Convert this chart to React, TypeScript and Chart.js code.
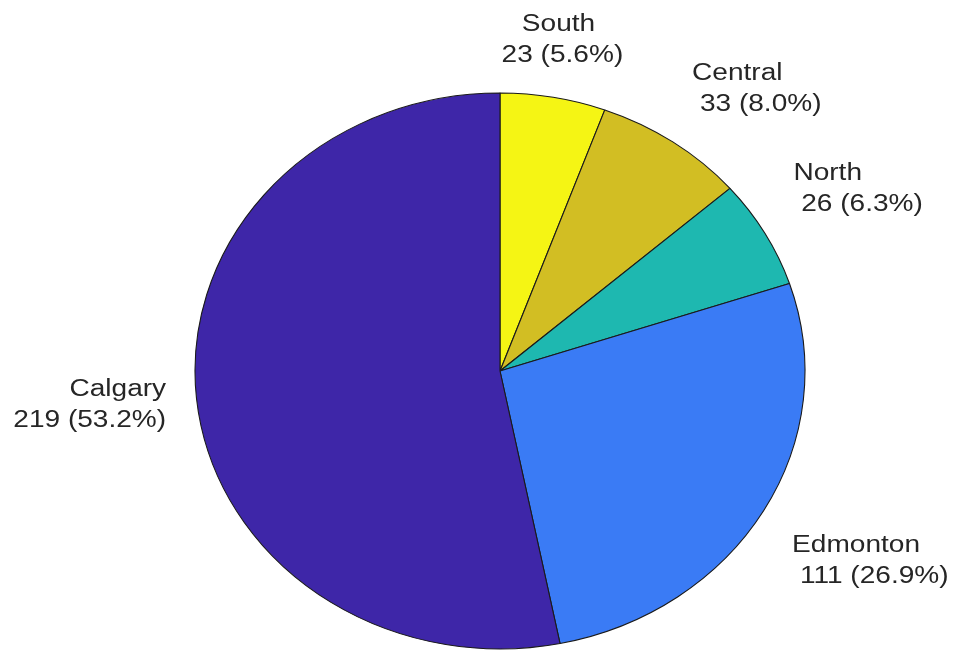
import React, { useEffect, useRef } from "react";
import { Chart, registerables } from "chart.js";

Chart.register(...registerables);

const categories = ["South", "Central", "North", "Edmonton", "Calgary"];
const counts = [23, 33, 26, 111, 219];
const sliceColors = ["#f5f514", "#d2be23", "#1eb8b0", "#3a7bf5", "#3e26a8"];

const W = 956;
const H = 651;
const RADIUS = 278;
const STRETCH_X = 305 / 278; // pie is an ellipse in the reference
const TEXT_STRETCH_X = 1.22;
const FONT = "23px 'Liberation Sans', Arial, sans-serif";
const TEXT_COLOR = "#262626";
const LINE_GAP = 31;

const ellipsePlugin = {
  id: "ellipse",
  beforeDatasetsDraw(chart: any) {
    const meta = chart.getDatasetMeta(0);
    const arc = meta.data[0];
    if (!arc) return;
    const { x, y } = arc;
    const ctx = chart.ctx;
    ctx.save();
    ctx.translate(x, y);
    ctx.scale(STRETCH_X, 1);
    ctx.translate(-x, -y);
  },
  afterDatasetsDraw(chart: any) {
    const ctx = chart.ctx;
    ctx.restore();
    const meta = chart.getDatasetMeta(0);
    const data = chart.data.datasets[0].data as number[];
    const total = data.reduce((a, b) => a + b, 0);
    ctx.save();
    ctx.font = FONT;
    ctx.fillStyle = TEXT_COLOR;
    meta.data.forEach((arc: any, i: number) => {
      const props = arc.getProps(["x", "y", "startAngle", "endAngle", "outerRadius"], true);
      const mid = (props.startAngle + props.endAngle) / 2;
      const c = Math.cos(mid);
      const s = Math.sin(mid);
      const ax = props.x + props.outerRadius * STRETCH_X * 1.1 * c;
      const ay = props.y + props.outerRadius * 1.1 * s;
      let align: CanvasTextAlign = "center";
      let dx = 0;
      if (c > 0.3) {
        align = "left";
        dx = 2;
      } else if (c < -0.3) {
        align = "right";
        dx = 0;
      }
      const pct = ((data[i] / total) * 100).toFixed(1);
      const lines = [chart.data.labels[i] as string, " " + data[i] + " (" + pct + "%)"];
      let firstBaseline: number;
      if (s < -0.3) {
        firstBaseline = ay - 8 - LINE_GAP * (lines.length - 1);
      } else if (s > 0.3) {
        firstBaseline = ay + 27;
      } else {
        firstBaseline = ay - 5;
      }
      lines.forEach((line, j) => {
        ctx.save();
        ctx.translate(ax + dx, firstBaseline + j * LINE_GAP);
        ctx.scale(TEXT_STRETCH_X, 1);
        ctx.textAlign = align;
        ctx.textBaseline = "alphabetic";
        ctx.fillText(line, 0, 0);
        ctx.restore();
      });
    });
    ctx.restore();
  },
};

export default function App() {
  const ref = useRef<HTMLCanvasElement | null>(null);
  useEffect(() => {
    if (!ref.current) return;
    const chart = new Chart(ref.current, {
      type: "pie",
      data: {
        labels: categories,
        datasets: [
          {
            data: counts,
            backgroundColor: sliceColors,
            borderColor: "#1a1a1a",
            borderWidth: 1,
          },
        ],
      },
      options: {
        responsive: false,
        animation: false,
        radius: RADIUS,
        layout: { padding: { left: 44, right: 0, top: 91, bottom: 0 } },
        plugins: {
          legend: { display: false },
          tooltip: { enabled: false },
        },
      } as any,
      plugins: [ellipsePlugin],
    });
    return () => chart.destroy();
  }, []);
  return (
    <div style={{ position: "fixed", left: 0, top: 0, width: W, height: H, background: "#fff" }}>
      <canvas ref={ref} width={W} height={H} style={{ width: W, height: H }} />
    </div>
  );
}
